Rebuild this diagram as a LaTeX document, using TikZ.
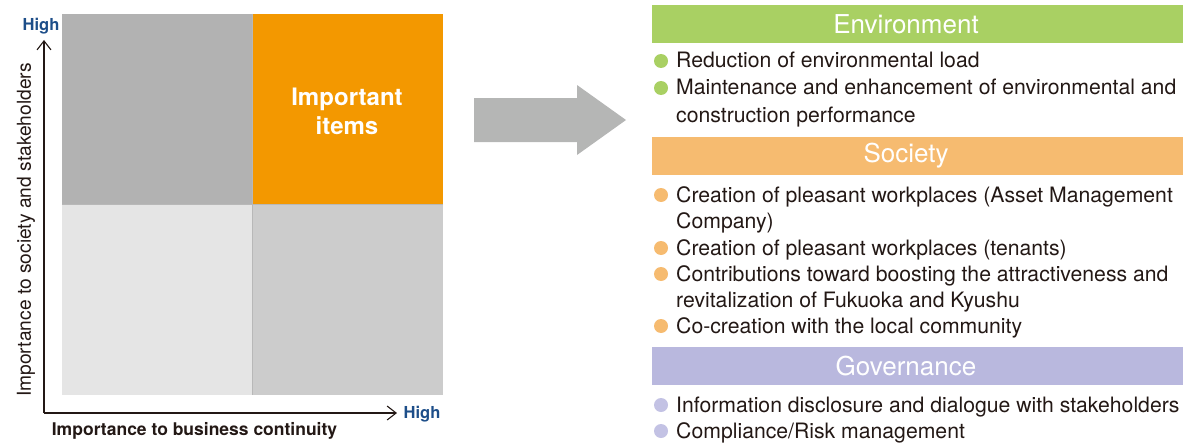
\documentclass[tikz,border=0pt]{standalone}
\usepackage{fontspec}
\setmainfont{TeX Gyre Heros}
\usepackage{xcolor}
\usepackage{tikz}
\usetikzlibrary{arrows.meta,positioning}

\definecolor{quadtl}{HTML}{B2B2B2}
\definecolor{quadtr}{HTML}{F39800}
\definecolor{quadbl}{HTML}{E5E5E5}
\definecolor{quadbr}{HTML}{CCCCCC}
\definecolor{bigarrow}{HTML}{B5B6B5}
\definecolor{envgreen}{HTML}{A9D063}
\definecolor{socorange}{HTML}{F6BB70}
\definecolor{govpurple}{HTML}{B9B8DE}
\definecolor{govdot}{HTML}{C3C2E4}
\definecolor{highblue}{HTML}{1D4E89}
\definecolor{labeltext}{HTML}{231815}

\begin{document}
\begin{tikzpicture}[
                x=1pt, y=-1pt,
                quad/.style={minimum width=190.5pt, minimum height=190.5pt, inner sep=0pt},
                divider/.style={draw=black!28, line width=0.6pt},
                axis/.style={-{Straight Barb[length=9pt, width=14pt]}, line width=1.1pt, labeltext},
                high/.style={font=\fontsize{16.5}{18}\selectfont\bfseries, text=highblue, inner sep=0pt},
                axislabel/.style={font=\fontsize{17.5}{20}\selectfont\bfseries, text=labeltext, inner sep=0pt},
                headbar/.style={minimum width=531pt, minimum height=38pt, inner sep=0pt},
                headtext/.style={font=\fontsize{26}{30}\selectfont, text=white, inner sep=0pt},
                dot/.style={circle, minimum size=14pt, inner sep=0pt},
                item/.style={font=\fontsize{21.2}{27}\selectfont, text=labeltext, anchor=base west, inner sep=0pt}
            ]
                \useasboundingbox (0,0) rectangle (1186,444);

                % Materiality matrix
                \node[quad, fill=quadtl] (tl) at (157.25,109.25) {};
                \node[quad, fill=quadtr] (tr) at (347.75,109.25) {};
                \node[quad, fill=quadbl] (bl) at (157.25,299.75) {};
                \node[quad, fill=quadbr] (br) at (347.75,299.75) {};
                \draw[divider] (tl.south west) -- (tr.south east);
                \draw[divider] (tl.north east) -- (bl.south east);
                \node[font=\fontsize{24}{29}\selectfont\bfseries, text=white, align=center, inner sep=0pt] (important) at (347,111) {Important\\items};

                % Axes
                \coordinate (origin) at (44,413);
                \coordinate (ytop) at (44,40);
                \coordinate (xend) at (397,413);
                \draw[axis] (origin) -- (ytop);
                \draw[axis] (origin) -- (xend);
                \node[high] (yhigh) at (41,26) {High};
                \node[high] (xhigh) at (422,414) {High};
                \node[axislabel] (xlabel) at (194.5,431) {Importance to business continuity};
                \node[font=\fontsize{19.2}{22}\selectfont, text=labeltext, inner sep=0pt, rotate=90] (ylabel) at (26,230) {Importance to society and stakeholders};

                % Big arrow towards the categories
                \fill[bigarrow] (474,98) -- (577,98) -- (577,85) -- (626,120) -- (577,155) -- (577,142) -- (474,142) -- cycle;

                % Environment
                \node[headbar, fill=envgreen] (envbar) at (917.5,24) {};
                \node[headtext] (envhead) at (906,24.5) {Environment};
                \node[dot, fill=envgreen] (e1dot) at (661,61) {};
                \node[item] (e1) at (676,68) {Reduction of environmental load};
                \node[dot, fill=envgreen] (e2dot) at (661,88) {};
                \node[item] (e2) at (676,95) {Maintenance and enhancement of environmental and};
                \node[item] (e2b) at (676,122) {construction performance};

                % Society
                \node[headbar, fill=socorange] (socbar) at (917.5,155.5) {};
                \node[headtext] (sochead) at (906,156) {Society};
                \node[dot, fill=socorange] (s1dot) at (661,195) {};
                \node[item] (s1) at (676,202) {Creation of pleasant workplaces (Asset Management};
                \node[item] (s1b) at (676,228.5) {Company)};
                \node[dot, fill=socorange] (s2dot) at (661,248) {};
                \node[item] (s2) at (676,255) {Creation of pleasant workplaces (tenants)};
                \node[dot, fill=socorange] (s3dot) at (661,274) {};
                \node[item] (s3) at (676,281) {Contributions toward boosting the attractiveness and};
                \node[item] (s3b) at (676,307) {revitalization of Fukuoka and Kyushu};
                \node[dot, fill=socorange] (s4dot) at (661,326) {};
                \node[item] (s4) at (676,333) {Co-creation with the local community};

                % Governance
                \node[headbar, fill=govpurple] (govbar) at (917.5,365.5) {};
                \node[headtext] (govhead) at (906,366) {Governance};
                \node[dot, fill=govdot] (g1dot) at (661,405) {};
                \node[item] (g1) at (676,412) {Information disclosure and dialogue with stakeholders};
                \node[dot, fill=govdot] (g2dot) at (661,431) {};
                \node[item] (g2) at (676,438) {Compliance/Risk management};

            \end{tikzpicture}
\end{document}
